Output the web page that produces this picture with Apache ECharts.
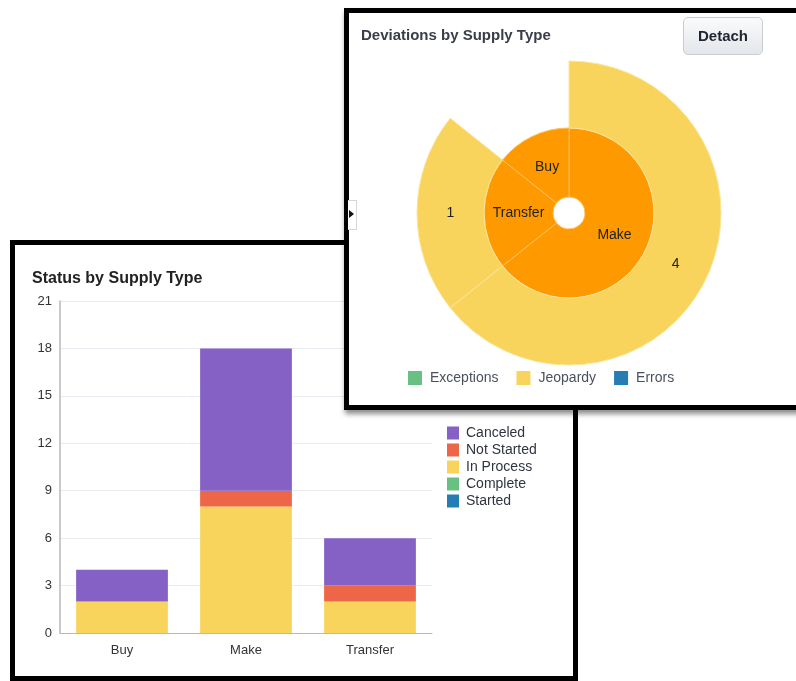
<!DOCTYPE html>
<html>
<head>
<meta charset="utf-8">
<script src="https://cdn.jsdelivr.net/npm/echarts@6/dist/echarts.min.js"></script>
<style>
  html, body { margin:0; padding:0; background:#fff; width:796px; height:681px; overflow:hidden; }
  #bar { position:absolute; left:0; top:0; width:796px; height:681px; z-index:1; }
  #barBorder { position:absolute; left:10px; top:240px; width:568px; height:441px; box-sizing:border-box; border:5px solid #000; z-index:2; pointer-events:none; }
  #sunPanel { position:absolute; left:344px; top:8px; width:470px; height:402px; box-sizing:border-box; border:5px solid #000; background:#fff; z-index:3; box-shadow:1px 4px 5px rgba(0,0,0,0.45); }
  #sun { position:absolute; left:0; top:0; width:447px; height:392px; }
  #detach { position:absolute; left:334px; top:4px; width:80px; height:38px; box-sizing:border-box; border:1px solid #c9cdd2; border-radius:5px;
    background:linear-gradient(#fafbfc,#e3e6ea); font:bold 15px "Liberation Sans", Arial, sans-serif; color:#1f2530; text-align:center; line-height:36px; }
  #tab { position:absolute; left:348px; top:200px; width:9px; height:30px; box-sizing:border-box; border:1px solid #d4d8dc; border-left:none; background:#fff; z-index:4; }
  #tab span { position:absolute; left:1px; top:9px; width:0; height:0; border-top:4px solid transparent; border-bottom:4px solid transparent; border-left:5px solid #111; }
</style>
</head>
<body>
<div id="bar"></div>
<div id="barBorder"></div>
<div id="sunPanel"><div id="sun"></div><div id="detach">Detach</div></div>
<div id="tab"><span></span></div>
<script>
// ---- Bar chart data ----
const categories = ['Buy', 'Make', 'Transfer'];
const inProcess  = [2, 8, 2];
const notStarted = [0, 1, 1];
const canceled   = [2, 9, 3];
const complete   = [0, 0, 0];
const started    = [0, 0, 0];
const yTicks = [0, 3, 6, 9, 12, 15, 18, 21];
const barLegend = ['Canceled', 'Not Started', 'In Process', 'Complete', 'Started'];

// ---- Sunburst data ----
const supplyTypes = ['Make', 'Transfer', 'Buy'];
const supplyTotals = [18, 6, 4];
const jeopardyCounts = [4, 1, 0];
const sunLegend = ['Exceptions', 'Jeopardy', 'Errors'];

const FONT = '"Liberation Sans", Arial, sans-serif';
const C = { canceled:'#8561c5', notStarted:'#ed6647', inProcess:'#f8d45c', complete:'#68c182', started:'#267db3', make:'#fe9a00' };

const barChart = echarts.init(document.getElementById('bar'));
function barSeries(name, data, color) {
  return { name, type:'bar', stack:'s', data, barWidth:'74%', itemStyle:{ color }, emphasis:{ disabled:true } };
}
barChart.setOption({
  animation:false,
  title:{ text:'Status by Supply Type', left:27, top:266, textStyle:{ fontFamily:FONT, fontSize:16, fontWeight:'bold', color:'#222' } },
  legend:{ orient:'vertical', left:442, top:421, itemWidth:12, itemHeight:13, itemGap:3, icon:'rect',
    data:barLegend, textStyle:{ fontFamily:FONT, fontSize:14, color:'#2e3440', padding:[0,0,0,2] } },
  grid:{ left:60, right:364, top:301, bottom:48, containLabel:false },
  xAxis:{ type:'category', data:categories, axisLine:{ lineStyle:{ color:'#b8b8b8' } }, axisTick:{ show:false },
    axisLabel:{ fontFamily:FONT, fontSize:13, color:'#333', margin:11 } },
  yAxis:{ type:'value', min:yTicks[0], max:yTicks[yTicks.length-1], interval:3,
    axisLine:{ show:true, lineStyle:{ color:'#b8b8b8', width:1.5 } }, axisTick:{ show:false },
    axisLabel:{ fontFamily:FONT, fontSize:13, color:'#333', margin:8 },
    splitLine:{ lineStyle:{ color:'#e8ecf1' } } },
  series:[
    barSeries('In Process', inProcess, C.inProcess),
    barSeries('Not Started', notStarted, C.notStarted),
    barSeries('Canceled', canceled, C.canceled),
    barSeries('Complete', complete, C.complete),
    barSeries('Started', started, C.started)
  ]
});

const sunChart = echarts.init(document.getElementById('sun'));
const sunData = supplyTypes.map((name, i) => {
  const node = { name, value: supplyTotals[i] };
  if (jeopardyCounts[i] > 0) node.children = [{ name:'Jeopardy', value: supplyTotals[i], count: jeopardyCounts[i] }];
  return node;
});
const legendColors = [C.complete, C.inProcess, C.started];
sunChart.setOption({
  animation:false,
  title:{ text:'Deviations by Supply Type', left:7, top:10, textStyle:{ fontFamily:FONT, fontSize:15, fontWeight:'bold', color:'#3a3d4a' } },
  legend:{ left:54, top:353, itemWidth:14, itemHeight:14, itemGap:18, icon:'rect', data:sunLegend,
    textStyle:{ fontFamily:FONT, fontSize:14, color:'#4a5060', padding:[0,0,0,3] } },
  series:[
    { type:'sunburst', center:[220, 200], sort:null, nodeClick:false, startAngle:90, data:sunData,
      emphasis:{ disabled:true },
      label:{ rotate:0, fontFamily:FONT, fontSize:14, color:'#222' },
      levels:[
        {},
        { r0:16, r:85, itemStyle:{ color:C.make, borderColor:'#ffbd5c', borderWidth:1 }, label:{ rotate:0 } },
        { r0:85, r:152, itemStyle:{ color:C.inProcess, borderColor:'#fbe49c', borderWidth:1 }, label:{ rotate:0, formatter:p => String(p.data.count) } }
      ]
    },
    { type:'pie', radius:[0, 0], center:[-100, -100], silent:true, stillShowZeroSum:false,
      label:{ show:false }, labelLine:{ show:false },
      data: sunLegend.map((n, i) => ({ name:n, value:0, itemStyle:{ color:legendColors[i] } })) }
  ]
});
</script>
</body>
</html>
